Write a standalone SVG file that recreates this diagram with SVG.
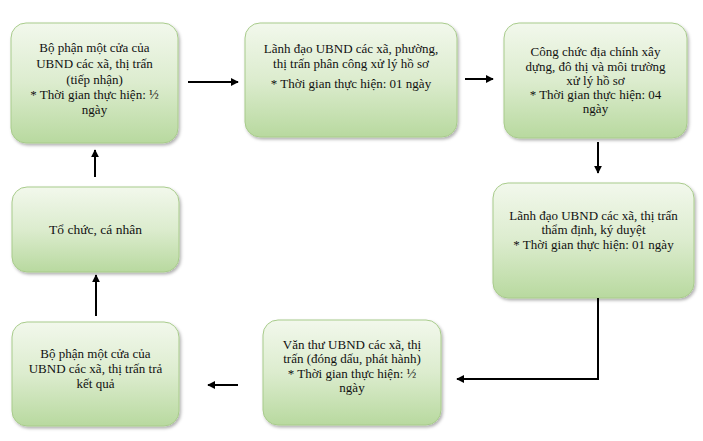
<svg xmlns="http://www.w3.org/2000/svg" width="703" height="441" viewBox="0 0 703 441">
<defs>
<linearGradient id="g" x1="0" y1="0" x2="0" y2="1">
<stop offset="0" stop-color="#f2f8ec"/>
<stop offset="0.5" stop-color="#dcecce"/>
<stop offset="1" stop-color="#b8d99f"/>
</linearGradient>
<filter id="sh" x="-10%" y="-10%" width="125%" height="130%">
<feDropShadow dx="1.5" dy="2" stdDeviation="1.5" flood-color="#000" flood-opacity="0.3"/>
</filter>
<marker id="ah" viewBox="0 0 10 10" refX="9" refY="5" markerWidth="4" markerHeight="4" orient="auto" markerUnits="strokeWidth">
<path d="M0,0 L10,5 L0,10 z" fill="#000"/>
</marker>
</defs>
<style>
.box{fill:url(#g);stroke:#a8cb8b;stroke-width:1;filter:url(#sh);}
text{font-family:"Liberation Serif","Times New Roman",serif;font-size:13px;fill:#111;text-anchor:middle;}
.c{fill:none;stroke:#000;stroke-width:2;marker-end:url(#ah);}
</style>
<rect width="703" height="441" fill="#fff"/>
<g id="n1">
<rect class="box" x="11" y="23" width="167" height="120" rx="15"/>
<text x="94.5" y="52">Bộ phận một cửa của</text>
<text x="94.5" y="67.5">UBND các xã, thị trấn</text>
<text x="94.5" y="84">(tiếp nhận)</text>
<text x="94.5" y="99">* Thời gian thực hiện: ½</text>
<text x="94.5" y="114">ngày</text>
</g>
<g id="n2">
<rect class="box" x="245" y="23" width="212" height="114" rx="15"/>
<text x="351" y="53">Lãnh đạo UBND các xã, phường,</text>
<text x="351" y="68">thị trấn phân công xử lý hồ sơ</text>
<text x="351" y="88">*  Thời gian thực hiện: 01 ngày</text>
</g>
<g id="n3">
<rect class="box" x="504" y="23" width="183" height="115" rx="15"/>
<text x="595.5" y="56">Công chức địa chính xây</text>
<text x="595.5" y="70.5">dựng, đô thị và môi trường</text>
<text x="595.5" y="85">xử lý hồ sơ</text>
<text x="595.5" y="99">* Thời gian thực hiện: 04</text>
<text x="595.5" y="113">ngày</text>
</g>
<g id="n4">
<rect class="box" x="493" y="183" width="201" height="115" rx="15"/>
<text x="593.5" y="220">Lãnh đạo UBND các xã, thị trấn</text>
<text x="593.5" y="234">thẩm định, ký duyệt</text>
<text x="593.5" y="249">*  Thời gian thực hiện: 01 ngày</text>
</g>
<g id="n5">
<rect class="box" x="263" y="320" width="178" height="105" rx="15"/>
<text x="352" y="348.5">Văn thư UBND các xã, thị</text>
<text x="352" y="362.5">trấn (đóng dấu, phát hành)</text>
<text x="352" y="378">* Thời gian thực hiện: ½</text>
<text x="352" y="392">ngày</text>
</g>
<g id="n6">
<rect class="box" x="12" y="322" width="167" height="104" rx="15"/>
<text x="95.5" y="358">Bộ phận một cửa của</text>
<text x="95.5" y="373">UBND các xã, thị trấn trả</text>
<text x="95.5" y="388">kết quả</text>
</g>
<g id="n7">
<rect class="box" x="12" y="187" width="167" height="85" rx="15"/>
<text x="95.5" y="234" style="font-size:13.5px">Tổ chức, cá nhân</text>
</g>
<g id="connectors">
<path class="c" d="M188,82 L238,82"/>
<path class="c" d="M465,79 L493,79"/>
<path class="c" d="M598,142 L598,173"/>
<path class="c" d="M598,298 L598,379 L457,379"/>
<path class="c" d="M238,385 L208,385"/>
<path class="c" d="M96,316 L96,275"/>
<path class="c" d="M95,177 L95,150"/>
</g>
</svg>
